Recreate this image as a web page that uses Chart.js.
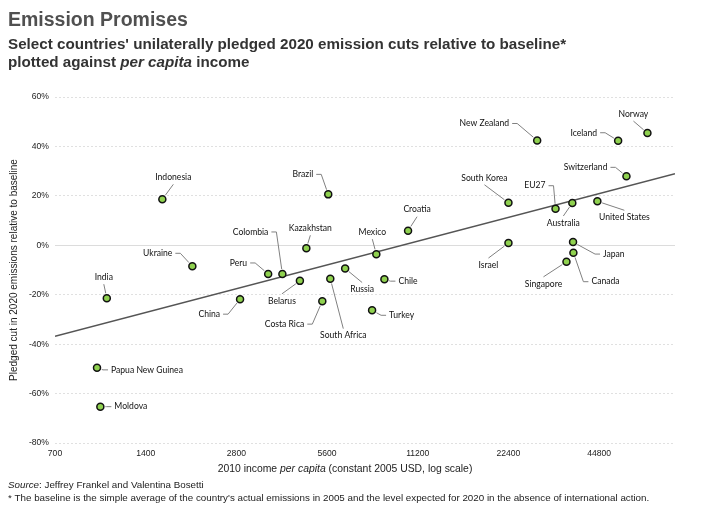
<!DOCTYPE html>
<html>
<head>
<meta charset="utf-8">
<script src="https://cdn.jsdelivr.net/npm/chart.js@4.4.1/dist/chart.umd.min.js"></script>
<style>
  body { margin: 0; background: #fff; }
</style>
</head>
<body>
<canvas id="chart" width="703" height="509"></canvas>
<script>
// values
const countries = ['Indonesia', 'Brazil', 'Kazakhstan', 'Ukraine', 'Peru', 'Colombia', 'Belarus', 'Russia',
  'India', 'China', 'Costa Rica', 'South Africa', 'Papua New Guinea', 'Moldova', 'Mexico', 'Croatia',
  'Chile', 'Turkey', 'South Korea', 'Israel', 'New Zealand', 'Iceland', 'Norway', 'Switzerland',
  'EU27', 'Australia', 'United States', 'Japan', 'Canada', 'Singapore'];
const income = [1590, 5650, 4780, 2000, 3570, 3980, 4550, 6430,
  1040, 2880, 5400, 5740, 965, 990, 8160, 10400,
  8680, 7900, 22400, 22400, 27900, 51800, 64800, 55200,
  32100, 36500, 44200, 36700, 36800, 34900];
const pledge = [18.6, 20.6, -1.2, -8.5, -11.6, -11.6, -14.4, -9.4,
  -21.4, -21.8, -22.6, -13.5, -49.6, -65.3, -3.6, 5.9,
  -13.7, -26.3, 17.2, 0.9, 42.4, 42.3, 45.4, 27.9,
  14.8, 17.1, 17.8, 1.3, -3.0, -6.7];
const trendIncome = [700, 80000];
const trendPledge = [-36.8, 29.0];
const xTicks = [700, 1400, 2800, 5600, 11200, 22400, 44800];

// where each label sits relative to its dot (px) and which side the leader leaves from
const labelPos = {
  'Indonesia': [11, -22, 'up'], 'Brazil': [-15, -20, 'l'], 'Kazakhstan': [4, -20, 'up'],
  'Ukraine': [-20, -13, 'l'], 'Peru': [-21, -11, 'l'], 'Colombia': [-14, -42, 'l'],
  'Belarus': [-18, 20, 'down'], 'Russia': [17, 21, 'down'], 'India': [-3, -21, 'up'],
  'China': [-20, 15, 'l'], 'Costa Rica': [-18, 23, 'l'], 'South Africa': [13, 57, 'down'],
  'Papua New Guinea': [14, 2, 'r'], 'Moldova': [14, 0, 'r'], 'Mexico': [-4, -22, 'up'],
  'Croatia': [9, -21, 'up'], 'Chile': [14, 2, 'r'], 'Turkey': [17, 5, 'r'],
  'South Korea': [-24, -25, 'up'], 'Israel': [-20, 22, 'down'], 'New Zealand': [-28, -17, 'l'],
  'Iceland': [-21, -8, 'l'], 'Norway': [-14, -19, 'up'], 'Switzerland': [-19, -9, 'l'],
  'EU27': [-10, -23, 'l'], 'Australia': [-9, 20, 'down'], 'United States': [27, 16, 'down'],
  'Japan': [30, 12, 'r'], 'Canada': [18, 29, 'r'], 'Singapore': [-23, 22, 'down']
};

const SANS = "'Liberation Sans', Arial, sans-serif";
const labelFont = "8.6px Lato, sans-serif";

function drawRuns(ctx, runs, x, y, align) {
  let total = 0;
  runs.forEach(r => { ctx.font = r[1]; total += ctx.measureText(r[0]).width; });
  let cx = align === 'center' ? x - total / 2 : x;
  ctx.textAlign = 'left';
  runs.forEach(r => {
    ctx.font = r[1];
    ctx.fillText(r[0], cx, y);
    cx += ctx.measureText(r[0]).width;
  });
}

const textPlugin = {
  id: 'texts',
  beforeDatasetsDraw(chart) {
    // solid zero line
    const ctx = chart.ctx;
    const y0 = chart.scales.y.getPixelForValue(0);
    ctx.save();
    ctx.strokeStyle = '#dcdcdc';
    ctx.lineWidth = 1;
    ctx.beginPath();
    ctx.moveTo(chart.chartArea.left, Math.round(y0) + 0.5);
    ctx.lineTo(chart.chartArea.right, Math.round(y0) + 0.5);
    ctx.stroke();
    ctx.restore();
  },
  afterDatasetsDraw(chart) {
    const ctx = chart.ctx;
    const meta = chart.getDatasetMeta(0);
    ctx.save();
    ctx.font = labelFont;
    ctx.textBaseline = 'middle';
    ctx.strokeStyle = '#808080';
    ctx.lineWidth = 1;
    meta.data.forEach((pt, i) => {
      const name = countries[i];
      const [dx, dy, mode] = labelPos[name];
      const ty = pt.y + dy;
      let pts = [];
      let tx, align;
      if (mode === 'up' || mode === 'down') {
        tx = pt.x + dx; align = 'center';
        pts = [[tx, mode === 'up' ? ty + 7 : ty - 7]];
      } else if (mode === 'l') {
        tx = pt.x + dx; align = 'right';
        pts = [[tx + 3, ty], [tx + 8, ty]];
      } else {
        tx = pt.x + dx; align = 'left';
        pts = [[tx - 3, ty], [tx - 8, ty]];
      }
      const last = pts[pts.length - 1];
      const vx = last[0] - pt.x, vy = last[1] - pt.y;
      const len = Math.hypot(vx, vy) || 1;
      pts.push([pt.x + vx / len * 5, pt.y + vy / len * 5]);
      ctx.beginPath();
      ctx.moveTo(pts[0][0], pts[0][1]);
      for (let k = 1; k < pts.length; k++) ctx.lineTo(pts[k][0], pts[k][1]);
      ctx.stroke();
      ctx.fillStyle = '#111';
      ctx.textAlign = align;
      ctx.fillText(name, tx, ty);
    });
    ctx.restore();
  },
  afterDraw(chart) {
    const ctx = chart.ctx;
    const area = chart.chartArea;
    ctx.save();
    ctx.textBaseline = 'alphabetic';
    ctx.fillStyle = '#505050';
    drawRuns(ctx, [['Emission Promises', 'bold 19.5px ' + SANS]], 8, 26, 'left');
    ctx.fillStyle = '#333';
    drawRuns(ctx, [["Select countries' unilaterally pledged 2020 emission cuts relative to baseline*", 'bold 15.2px ' + SANS]], 8, 49, 'left');
    drawRuns(ctx, [['plotted against ', 'bold 15.2px ' + SANS], ['per capita', 'italic bold 15.2px ' + SANS], [' income', 'bold 15.2px ' + SANS]], 8, 67, 'left');

    ctx.fillStyle = '#222';
    drawRuns(ctx, [['2010 income ', '10.4px ' + SANS], ['per capita', 'italic 10.4px ' + SANS], [' (constant 2005 USD, log scale)', '10.4px ' + SANS]], 345, 472, 'center');
    drawRuns(ctx, [['Source', 'italic 9.8px ' + SANS], [': Jeffrey Frankel and Valentina Bosetti', '9.8px ' + SANS]], 8, 488, 'left');
    drawRuns(ctx, [["* The baseline is the simple average of the country's actual emissions in 2005 and the level expected for 2020 in the absence of international action.", '9.8px ' + SANS]], 8, 501, 'left');

    ctx.translate(17, (area.top + area.bottom) / 2);
    ctx.rotate(-Math.PI / 2);
    drawRuns(ctx, [['Pledged cut in 2020 emissions relative to baseline', '10px ' + SANS]], 0, 0, 'center');
    ctx.restore();
  }
};

const scatterData = countries.map((c, i) => ({ x: income[i], y: pledge[i] }));
const trendData = trendIncome.map((v, i) => ({ x: v, y: trendPledge[i] }));

new Chart(document.getElementById('chart'), {
  type: 'scatter',
  data: {
    datasets: [{
      data: scatterData,
      backgroundColor: '#8fd14f',
      borderColor: '#111',
      borderWidth: 1.5,
      pointRadius: 3.5,
      order: 0
    }, {
      type: 'line',
      data: trendData,
      borderColor: '#555',
      borderWidth: 1.5,
      pointRadius: 0,
      fill: false,
      order: 1
    }]
  },
  options: {
    responsive: false,
    animation: false,
    layout: { padding: { top: 97, right: 28, left: 0, bottom: 0 } },
    plugins: {
      legend: { display: false },
      tooltip: { enabled: false }
    },
    scales: {
      x: {
        type: 'logarithmic',
        min: 700,
        max: 80000,
        afterBuildTicks: scale => { scale.ticks = xTicks.map(v => ({ value: v })); },
        afterFit: scale => { scale.height = 66; },
        grid: { display: false, drawTicks: false },
        border: { display: false },
        ticks: {
          callback: v => String(v),
          font: { family: SANS, size: 8.6 },
          color: '#222',
          padding: 5,
          maxRotation: 0,
          autoSkip: false
        }
      },
      y: {
        min: -80,
        max: 60,
        afterFit: scale => { scale.width = 55; },
        grid: { color: '#e0e0e0', drawTicks: false },
        border: { display: false, dash: [2, 2] },
        ticks: {
          stepSize: 20,
          callback: v => v + '%',
          font: { family: SANS, size: 8.6 },
          color: '#222',
          padding: 6
        }
      }
    }
  },
  plugins: [textPlugin]
});
</script>
</body>
</html>
